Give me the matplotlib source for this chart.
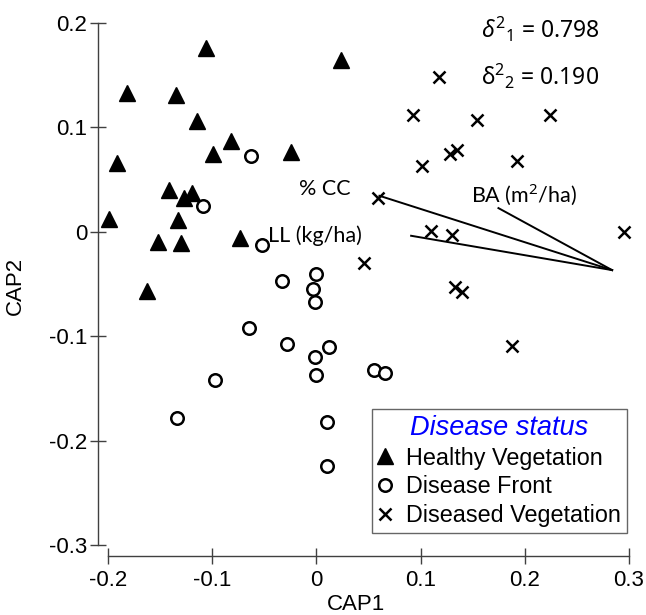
import matplotlib
matplotlib.use("Agg")
import matplotlib.pyplot as plt
from matplotlib.lines import Line2D

plt.rcParams['mathtext.fontset'] = 'custom'
plt.rcParams['mathtext.rm'] = 'Noto Sans'
plt.rcParams['mathtext.it'] = 'Noto Sans:italic'

# Healthy vegetation (triangles)
healthy_x = [-0.106, 0.024, -0.182, -0.135, -0.115, -0.082, -0.0995, -0.0246, -0.1916,
             -0.141, -0.127, -0.119, -0.1987, -0.1324, -0.152, -0.130, -0.0736, -0.1625]
healthy_y = [0.1765, 0.165, 0.1325, 0.131, 0.106, 0.0865, 0.075, 0.076, 0.0657,
             0.0405, 0.032, 0.037, 0.012, 0.011, -0.0093, -0.011, -0.0055, -0.0565]

# Disease front (circles)
front_x = [-0.063, -0.1084, -0.0521, -0.0333, -0.0003, -0.0035, -0.001, -0.0646, -0.0282,
           0.0125, -0.0016, -0.0007, 0.055, 0.0662, -0.097, -0.1334, 0.0099, 0.0106]
front_y = [0.0728, 0.0249, -0.0125, -0.047, -0.0405, -0.055, -0.0677, -0.0923, -0.107,
           -0.110, -0.1204, -0.1373, -0.1325, -0.135, -0.142, -0.1788, -0.1826, -0.2248]

# Diseased vegetation (crosses)
diseased_x = [0.1174, 0.0925, 0.1542, 0.2246, 0.1283, 0.135, 0.1926, 0.101, 0.0589,
              0.1104, 0.1299, 0.295, 0.046, 0.133, 0.1395, 0.188]
diseased_y = [0.1485, 0.1118, 0.1073, 0.1118, 0.0744, 0.0785, 0.068, 0.0626, 0.0319,
              0.0003, -0.0032, 0.0, -0.0303, -0.0533, -0.0575, -0.109]

# Vectors
vec_origin = (0.2838, -0.0367)
vec_names = ["% CC", "LL (kg/ha)", "BA (m$^2$/ha)"]
vec_end_x = [0.0605, 0.0909, 0.1747]
vec_end_y = [0.0345, -0.0038, 0.0227]

x_ticks = [-0.2, -0.1, 0, 0.1, 0.2, 0.3]
x_tick_labels = ["-0.2", "-0.1", "0", "0.1", "0.2", "0.3"]
y_ticks = [-0.3, -0.2, -0.1, 0, 0.1, 0.2]
y_tick_labels = ["-0.3", "-0.2", "-0.1", "0", "0.1", "0.2"]

W, H = 646, 615
fig = plt.figure(figsize=(W / 100, H / 100), dpi=100)
ax = fig.add_axes([108 / W, 70 / H, 521 / W, 522 / H])
ax.set_xlim(-0.2, 0.3)
ax.set_ylim(-0.3, 0.2)

# vectors
for ex, ey in zip(vec_end_x, vec_end_y):
    ax.plot([vec_origin[0], ex], [vec_origin[1], ey], color='black', lw=1.4,
            clip_on=False, zorder=2)

ax.plot(healthy_x, healthy_y, linestyle='none', marker='^', ms=11, color='black',
        clip_on=False, zorder=3)
ax.plot(front_x, front_y, linestyle='none', marker='o', ms=9, mfc='white', mec='black',
        mew=1.8, clip_on=False, zorder=3)
ax.plot(diseased_x, diseased_y, linestyle='none', marker='x', ms=8, mec='black',
        mew=1.8, clip_on=False, zorder=3)

lbl_font = dict(family='Lato', fontsize=15.5, color='black')
ax.text(-0.0163, 0.0412, vec_names[0], ha='left', va='center', **lbl_font)
ax.text(-0.046, -0.0038, vec_names[1], ha='left', va='center', **lbl_font)
ax.text(0.1488, 0.0364, vec_names[2], ha='left', va='center', **lbl_font)

ax.text(0.158, 0.194, r"$\delta^{2}{}_{1}$ = 0.798", ha='left', va='center',
        family='Noto Sans', fontsize=16.5)
ax.text(0.158, 0.149, r"$\mathrm{\delta}^{2}{}_{\mathrm{2}}$ = 0.190", ha='left', va='center',
        family='Noto Sans', fontsize=16.5)

# spines
for s in ['top', 'right']:
    ax.spines[s].set_visible(False)
spine_col = '#404040'
ax.spines['left'].set_position(('outward', 7.2))
ax.spines['bottom'].set_position(('outward', 7.9))
ax.spines['left'].set_bounds(-0.3, 0.2)
ax.spines['bottom'].set_bounds(-0.2, 0.3)
for s in ['left', 'bottom']:
    ax.spines[s].set_color(spine_col)
    ax.spines[s].set_linewidth(1.0)

ax.set_xticks(x_ticks)
ax.set_xticklabels(x_tick_labels)
ax.set_yticks(y_ticks)
ax.set_yticklabels(y_tick_labels)
ax.tick_params(direction='inout', length=11.5, width=1.0, color=spine_col,
               labelsize=16, labelcolor='black')
ax.tick_params(axis='x', pad=4)
ax.tick_params(axis='y', pad=2)
for t in ax.get_xticklabels() + ax.get_yticklabels():
    t.set_family('Liberation Sans')

fig.text(356 / W, 1 - 605 / H, "CAP1", ha='center', va='center',
         family='Liberation Sans', fontsize=16)
fig.text(15 / W, 1 - 286 / H, "CAP2", ha='center', va='center', rotation=90,
         family='Liberation Sans', fontsize=16)

handles = [
    Line2D([], [], linestyle='none', marker='^', ms=11, color='black'),
    Line2D([], [], linestyle='none', marker='o', ms=9, mfc='white', mec='black', mew=1.8),
    Line2D([], [], linestyle='none', marker='x', ms=8, mec='black', mew=1.8),
]
labels = ["Healthy Vegetation", "Disease Front", "Diseased Vegetation"]
leg = fig.legend(handles, labels, title="Disease status", loc='upper left',
                 bbox_to_anchor=(372 / W, 1 - 409 / H), frameon=True, fancybox=False,
                 prop={'family': 'Liberation Sans', 'size': 16.8},
                 title_fontproperties={'family': 'Liberation Sans', 'size': 19.5,
                                       'style': 'italic'},
                 handlelength=0.6, handletextpad=0.6, borderpad=0.25,
                 labelspacing=0.25, borderaxespad=0)
leg.get_title().set_color('#0000FF')
leg.get_frame().set_edgecolor('#404040')
leg.get_frame().set_linewidth(1.0)

fig.savefig("out.png", dpi=100)
